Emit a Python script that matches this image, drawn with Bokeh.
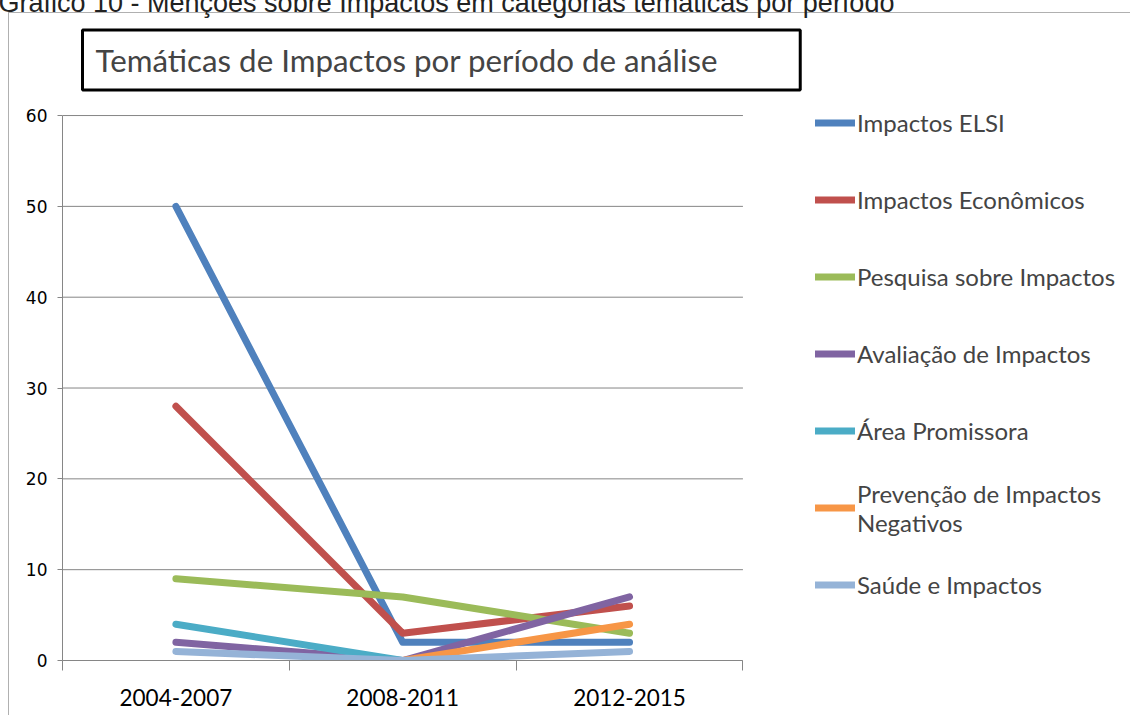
from bokeh.plotting import figure
from bokeh.models import (FixedTicker, Legend, LegendItem, Title, Range1d)
from bokeh.embed import file_html
from bokeh.resources import INLINE
import numpy as np

periods = ["2004-2007", "2008-2011", "2012-2015"]
series_names = ["Impactos ELSI", "Impactos Econômicos", "Pesquisa sobre Impactos",
                "Avaliação de Impactos", "Área Promissora",
                "Prevenção de Impactos\nNegativos", "Saúde e Impactos"]
elsi = [50, 2, 2]
economicos = [28, 3, 6]
pesquisa = [9, 7, 3]
avaliacao = [2, 0, 7]
area_promissora = [4, 0, np.nan]
prevencao = [np.nan, 0, 4]
saude = [1, 0, 1]
colors = ["#4F81BD", "#C0504D", "#9BBB59", "#8064A2", "#4BACC6", "#F79646", "#95B3D7"]
y_ticks = [0, 10, 20, 30, 40, 50, 60]
caption = "Gráfico 10 - Menções sobre Impactos em categorias temáticas por período"
chart_title = "Temáticas de Impactos por período de análise"

all_series = [elsi, economicos, pesquisa, avaliacao, area_promissora, prevencao, saude]
n = len(periods)
xs = [i + 0.5 for i in range(n)]
y_max = max(y_ticks)

# layout (pixels): data area spans 62..745 horizontally and 116..660 vertically;
# the frame is extended to the right and up so the legend can sit inside it.
data_left, data_right, data_top, data_bottom = 62, 745, 116, 660
frame_right, frame_top = 1134, 94
x_end = n * (frame_right - data_left) / (data_right - data_left)
y_end = y_max * (data_bottom - frame_top) / (data_bottom - data_top)

frame_gray = "#B0B0B0"
p = figure(width=1134, height=736, output_backend="svg", toolbar_location=None,
           x_range=Range1d(0, x_end), y_range=Range1d(0, y_end),
           min_border_left=66, min_border_right=0, min_border_top=0,
           min_border_bottom=55)
p.styles = {
    "margin-top": "-21px", "margin-left": "-4px",
    "background-color": "white",
    "background-image": f"linear-gradient({frame_gray}, {frame_gray}), linear-gradient({frame_gray}, {frame_gray})",
    "background-repeat": "no-repeat",
    "background-position": "12px 33px, 12px 33px",
    "background-size": "1px 100%, 100% 1px",
}
p.outline_line_color = None
p.background_fill_color = "white"
p.border_fill_alpha = 0

# caption (outermost title)
p.title.text = caption
p.title.text_font = "Liberation Sans"
p.title.text_font_size = "27px"
p.title.text_font_style = "normal"
p.title.text_color = "#222222"
p.title.offset = -64
p.title.standoff = 13

# chart title in a bordered box
t = Title(text=chart_title, text_font="Lato", text_font_size="31.3px",
          text_font_style="normal", border_line_color="black", border_line_width=3,
          background_fill_color="white", padding=dict(left=13, right=82, top=11, bottom=11),
          offset=20, standoff=7)
p.add_layout(t, "above")

# x axis: labels at centers, ticks at boundaries
p.xaxis.bounds = (0, n)
p.xaxis.ticker = FixedTicker(ticks=xs, minor_ticks=list(range(n + 1)))
p.xaxis.major_label_overrides = {x: lab for x, lab in zip(xs, periods)}
p.xaxis.major_tick_line_color = None
p.xaxis.major_tick_out = 0
p.xaxis.minor_tick_line_color = "#868686"
p.xaxis.minor_tick_out = 10
p.xaxis.minor_tick_in = 0
p.xaxis.axis_line_color = "#868686"
p.xaxis.major_label_standoff = 18
p.xaxis.major_label_text_font = "Lato"
p.xaxis.major_label_text_font_size = "22.5px"
p.xaxis.major_label_text_color = "black"
p.xgrid.grid_line_color = None

p.yaxis.bounds = (0, y_max)
p.yaxis.ticker = FixedTicker(ticks=y_ticks, minor_ticks=[])
p.yaxis.axis_line_color = "#868686"
p.yaxis.major_tick_line_color = "#868686"
p.yaxis.major_tick_out = 5
p.yaxis.major_tick_in = 0
p.yaxis.major_label_standoff = 10
p.yaxis.major_label_text_font = "DejaVu Sans"
p.yaxis.major_label_text_font_size = "17px"
p.yaxis.major_label_text_color = "black"
p.ygrid.grid_line_color = None

# horizontal gridlines limited to the data area
p.segment(x0=[0] * len(y_ticks), x1=[n] * len(y_ticks), y0=y_ticks, y1=y_ticks,
          line_color="#868686", line_width=1)

items = []
for name, vals, c in zip(series_names, all_series, colors):
    r = p.line(xs, vals, line_color=c, line_width=7, line_cap="round", line_join="round")
    items.append(LegendItem(label=name, renderers=[r]))

legend = Legend(items=items, location=(815 - data_left, 46), glyph_width=40, glyph_height=59,
                label_height=59, spacing=18, label_standoff=2, padding=0, margin=0,
                label_text_font="Lato", label_text_font_size="24px",
                border_line_color=None, background_fill_alpha=0)
p.add_layout(legend, "center")

open("out.html", "w").write(file_html(p, INLINE))
